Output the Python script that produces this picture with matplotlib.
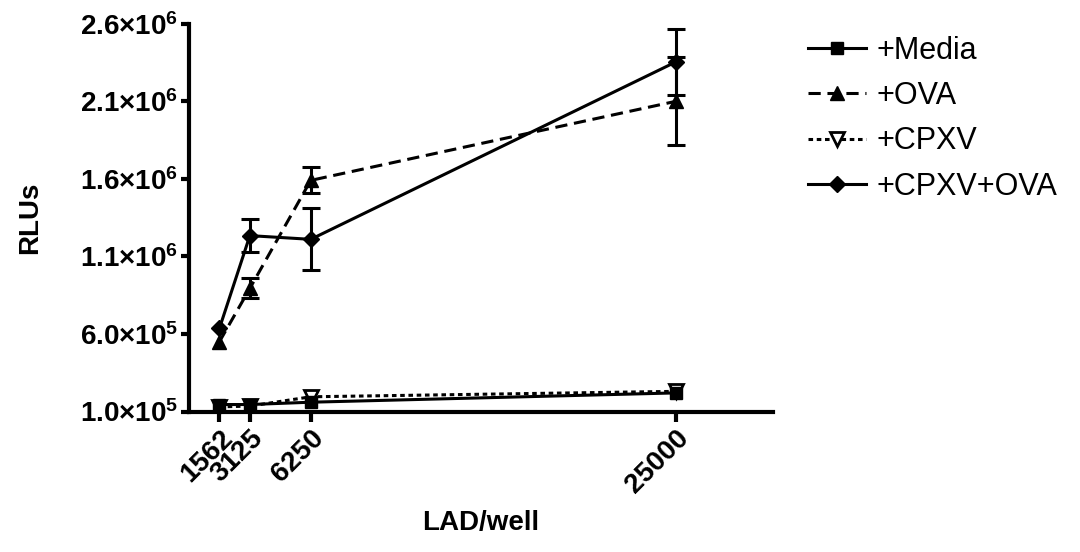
import matplotlib
matplotlib.use("Agg")
import matplotlib.pyplot as plt
from matplotlib.lines import Line2D
from matplotlib.ticker import FixedLocator, FuncFormatter

plt.rcParams['font.family'] = ['Liberation Sans', 'DejaVu Sans']
plt.rcParams['mathtext.fontset'] = 'custom'
plt.rcParams['mathtext.rm'] = 'Liberation Sans:bold'
plt.rcParams['mathtext.bf'] = 'Liberation Sans:bold'
plt.rcParams['mathtext.it'] = 'Liberation Sans:bold'

# LAD per well
lad = [1562, 3125, 6250, 25000]
lad_labels = ["1562", "3125", "6250", "25000"]

# mean RLUs per condition
media = [1.45e5, 1.45e5, 1.6e5, 2.2e5]
ova = [5.5e5, 8.94e5, 1.59e6, 2.10e6]
cpxv = [1.3e5, 1.35e5, 1.95e5, 2.3e5]
cpxv_ova = [6.36e5, 1.234e6, 1.21e6, 2.354e6]

# error bars (none visible at 1562)
ova_err = [0, 6.4e4, 8.4e4, 2.85e5]
cpxv_ova_err = [0, 1.04e5, 2.0e5, 2.15e5]

yticks = [1.0e5, 6.0e5, 1.1e6, 1.6e6, 2.1e6, 2.6e6]


def sci_fmt(v, pos):
    exp = len(str(int(v))) - 1
    mant = v / 10 ** exp
    return r'$%.1f{\times}10^{%d}$' % (mant, exp)


fig = plt.figure(figsize=(10.8, 5.52), dpi=100)
ax = fig.add_axes([0.175, 0.2545, 0.541, 0.7025])

lw = 2.2
eb = dict(capsize=6.5, capthick=2.2, elinewidth=2.2, clip_on=False,
          errorevery=(1, 1))
ova_ls = (0, (4, 2.2))
cpxv_ls = (0, (1.5, 1.2))

ax.plot(lad, media, color='black', lw=lw, marker='s', ms=9,
        clip_on=False, zorder=4)
ax.errorbar(lad, ova, yerr=ova_err, color='black', lw=lw, ls=ova_ls,
            marker='^', ms=10, zorder=3, **eb)
ax.plot(lad, cpxv, color='black', lw=lw, ls=cpxv_ls, marker='v', ms=10,
        mfc='white', mec='black', mew=2, clip_on=False, zorder=3)
ax.errorbar(lad, cpxv_ova, yerr=cpxv_ova_err, color='black', lw=lw,
            marker='D', ms=8, zorder=3, **eb)

ax.set_xlim(0, 30000)
ax.set_ylim(1e5, 2.6e6)

for s in ['top', 'right']:
    ax.spines[s].set_visible(False)
for s in ['left', 'bottom']:
    ax.spines[s].set_linewidth(3)

ax.xaxis.set_major_locator(FixedLocator(lad))
ax.set_xticklabels(lad_labels, rotation=45, ha='right', va='top',
                   rotation_mode='anchor', fontsize=20, fontweight='bold')
ax.yaxis.set_major_locator(FixedLocator(yticks))
ax.yaxis.set_major_formatter(FuncFormatter(sci_fmt))
ax.tick_params(axis='y', length=6, width=3, labelsize=20, pad=2)
ax.tick_params(axis='x', length=7, width=3, pad=3)

ax.set_ylabel('RLUs', fontsize=20, fontweight='bold', labelpad=26)
ax.set_xlabel('LAD/well', fontsize=20, fontweight='bold', labelpad=8)

handles = [
    Line2D([], [], color='black', lw=lw, marker='s', ms=9),
    Line2D([], [], color='black', lw=lw, ls=ova_ls, marker='^', ms=10),
    Line2D([], [], color='black', lw=lw, ls=cpxv_ls, marker='v', ms=10,
           mfc='white', mec='black', mew=2),
    Line2D([], [], color='black', lw=lw, marker='D', ms=8),
]
labels = ['+Media', '+OVA', '+CPXV', '+CPXV+OVA']
ax.legend(handles, labels, loc='upper left', bbox_to_anchor=(0.748, 0.935),
          bbox_transform=fig.transFigure, frameon=False, fontsize=22,
          handlelength=1.9, handletextpad=0.35, labelspacing=0.5,
          borderpad=0, borderaxespad=0)

fig.savefig('out.png', dpi=100)
